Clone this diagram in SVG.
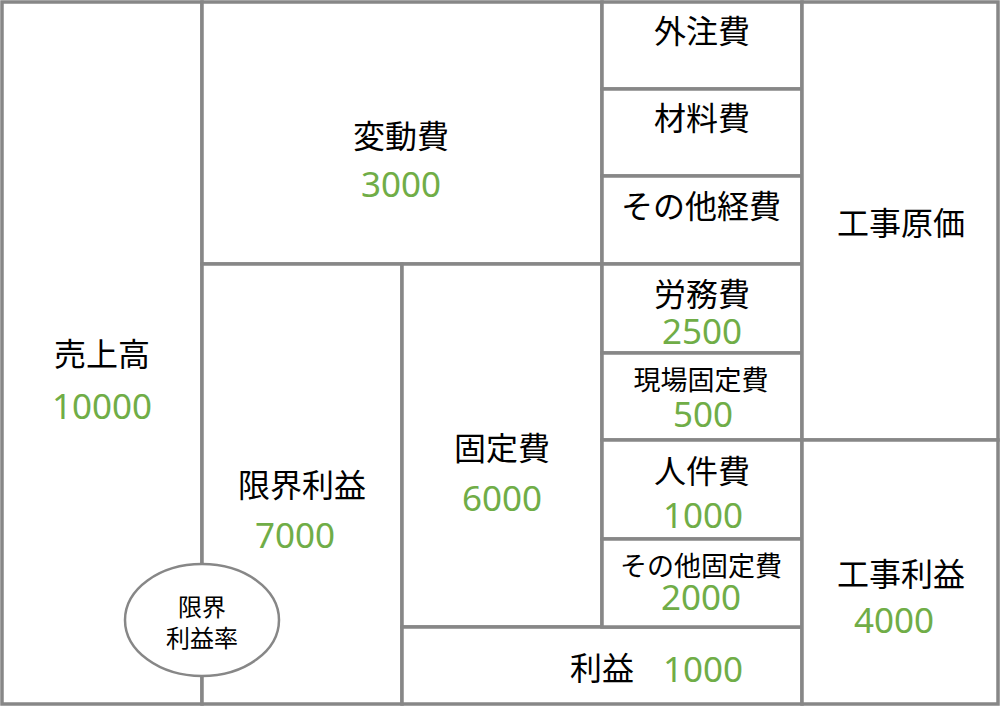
<svg xmlns="http://www.w3.org/2000/svg" width="1000" height="710" viewBox="0 0 1000 710">
<style>
.box{fill:#fff;stroke:#878787;stroke-width:3.5}
.lbl{font-family:"Noto Sans CJK JP","Noto Sans",sans-serif;font-size:32px;fill:#000;text-anchor:middle}
.sm{font-size:27px}
.xs{font-size:24px}
.num{font-family:"Noto Sans","Noto Sans CJK JP",sans-serif;font-size:35px;fill:#70AD47;text-anchor:middle}
</style>
<rect x="0" y="0" width="1000" height="710" fill="#fff"/>
<g id="uriage"><rect class="box" x="2" y="2" width="200" height="702"/>
<text class="lbl" x="102" y="366">売上高</text><text class="num" x="102" y="419">10000</text></g>
<g id="hendohi"><rect class="box" x="202" y="2" width="400" height="262"/>
<text class="lbl" x="401" y="148">変動費</text><text class="num" x="401" y="197">3000</text></g>
<g id="genkairieki"><rect class="box" x="202" y="264" width="200" height="440"/>
<text class="lbl" x="302" y="497">限界利益</text><text class="num" x="295" y="548">7000</text></g>
<g id="koteihi"><rect class="box" x="402" y="264" width="200" height="363"/>
<text class="lbl" x="502" y="460">固定費</text><text class="num" x="502" y="511">6000</text></g>
<g id="rieki"><rect class="box" x="402" y="627" width="400" height="77"/>
<text class="lbl" x="602" y="680">利益</text><text class="num" x="703" y="682">1000</text></g>
<g id="gaichuhi"><rect class="box" x="602" y="2" width="200" height="87"/>
<text class="lbl" x="702" y="43">外注費</text></g>
<g id="zairyohi"><rect class="box" x="602" y="89" width="200" height="87"/>
<text class="lbl" x="702" y="130">材料費</text></g>
<g id="sonotakeihi"><rect class="box" x="602" y="176" width="200" height="88"/>
<text class="lbl" x="701" y="218">その他経費</text></g>
<g id="romuhi"><rect class="box" x="602" y="264" width="200" height="89"/>
<text class="lbl" x="702" y="306">労務費</text><text class="num" x="702" y="344">2500</text></g>
<g id="genbakoteihi"><rect class="box" x="602" y="353" width="200" height="87"/>
<text class="lbl sm" x="701" y="390">現場固定費</text><text class="num" x="703" y="427">500</text></g>
<g id="jinkenhi"><rect class="box" x="602" y="440" width="200" height="99"/>
<text class="lbl" x="702" y="483">人件費</text><text class="num" x="703" y="528">1000</text></g>
<g id="sonotakoteihi"><rect class="box" x="602" y="539" width="200" height="88"/>
<text class="lbl sm" x="701" y="576">その他固定費</text><text class="num" x="701" y="610">2000</text></g>
<g id="kojigenka"><rect class="box" x="802" y="2" width="196" height="438"/>
<text class="lbl" x="901" y="235">工事原価</text></g>
<g id="kojirieki"><rect class="box" x="802" y="440" width="196" height="264"/>
<text class="lbl" x="901" y="586">工事利益</text><text class="num" x="894" y="633">4000</text></g>
<g id="connectors"></g>
<g id="genkairiekiritsu"><ellipse cx="202" cy="620" rx="77" ry="56" fill="#fff" stroke="#878787" stroke-width="2.5"/>
<text class="lbl xs" x="202" y="616">限界</text><text class="lbl xs" x="202" y="647">利益率</text></g>
</svg>
